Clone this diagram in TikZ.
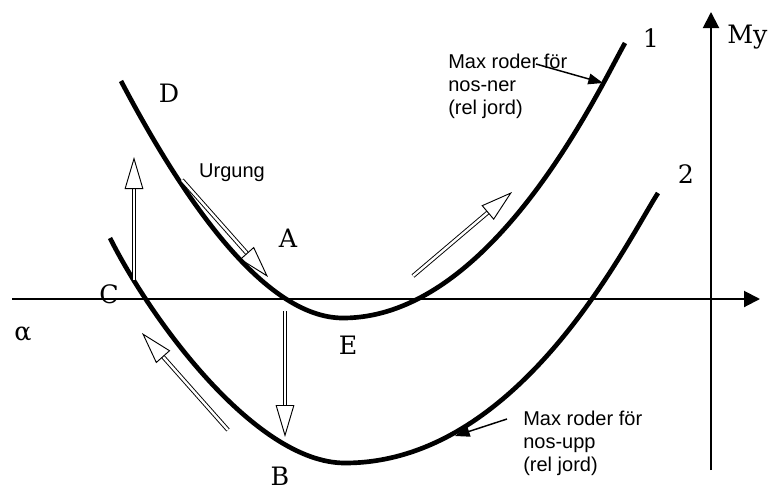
\documentclass[tikz,border=0pt]{standalone}
\usepackage{fontspec}
\setmainfont{DejaVu Serif}
\setsansfont{Liberation Sans}
\usetikzlibrary{arrows.meta}

\begin{document}
\begin{tikzpicture}[
  x=0.75pt, y=-0.75pt,
  axis/.style={line width=1.5pt, -{Triangle[length=12pt, width=12pt]}},
  curve/.style={line width=3.5pt},
  hollow/.style={double, double distance=1.8pt, line width=0.7pt,
                 -{Triangle[open, length=24pt, width=14pt, line width=0.7pt]}},
  pointer/.style={line width=1.1pt, -{Triangle[length=11pt, width=8pt]}},
  letter/.style={font=\fontsize{19}{21}\selectfont, anchor=base, inner sep=0pt},
  note/.style={font=\sffamily\fontsize{15}{17.3}\selectfont, align=left,
               anchor=north west, inner sep=0pt}
]
  \useasboundingbox (0,0) rectangle (771,490);

  % Axes
  \coordinate (xstart) at (12,299);
  \coordinate (xend) at (760,299);
  \coordinate (ystart) at (711,470);
  \coordinate (yend) at (711,12);
  \draw[axis] (xstart) -- (xend);
  \draw[axis] (ystart) -- (yend);

  % Curve 1 (nos-ner)
  \draw[curve] (121,81) .. controls (181,195) and (263,318) .. (343,318)
    .. controls (493,318) and (600,87) .. (625,43);

  % Curve 2 (nos-upp)
  \draw[curve] (110,238) .. controls (150,318) and (255,463) .. (345,463)
    .. controls (520,463) and (627,241) .. (658,193);

  % Letters
  \node[letter] (ptD) at (169,102) {D};
  \node[letter] (ptA) at (288,247) {A};
  \node[letter] (ptC) at (109,303) {C};
  \node[letter] (ptE) at (348,354) {E};
  \node[letter] (ptB) at (280,485) {B};
  \node[letter] (alpha) at (23,340) {α};
  \node[letter] (one) at (651,47) {1};
  \node[letter] (two) at (686,183) {2};
  \node[letter, anchor=base west] (my) at (727,43) {My};

  % Notes
  \node[note, anchor=base] (urgung) at (232,177) {Urgung};
  \node[note] (nosner) at (448,54) {Max roder för\\nos-ner\\(rel jord)};
  \node[note] (nosupp) at (523,411) {Max roder för\\nos-upp\\(rel jord)};

  % Hollow arrows
  \coordinate (liftS) at (134,280);  \coordinate (liftE) at (134,157);
  \coordinate (urgS) at (182,180);   \coordinate (urgE) at (268,277);
  \coordinate (dropS) at (285,311);  \coordinate (dropE) at (285,437);
  \coordinate (climbS) at (413,276); \coordinate (climbE) at (512,192);
  \coordinate (slideS) at (228,430); \coordinate (slideE) at (142,333);
  \draw[hollow] (liftS) -- (liftE);
  \draw[hollow] (urgS) -- (urgE);
  \draw[hollow] (dropS) -- (dropE);
  \draw[hollow] (climbS) -- (climbE);
  \draw[hollow] (slideS) -- (slideE);

  % Pointers
  \coordinate (nernote) at (536,64);  \coordinate (nerhit) at (603,83);
  \coordinate (uppnote) at (507,419); \coordinate (upphit) at (455,436);
  \draw[pointer] (nernote) -- (nerhit);
  \draw[pointer] (uppnote) -- (upphit);
\end{tikzpicture}
\end{document}
